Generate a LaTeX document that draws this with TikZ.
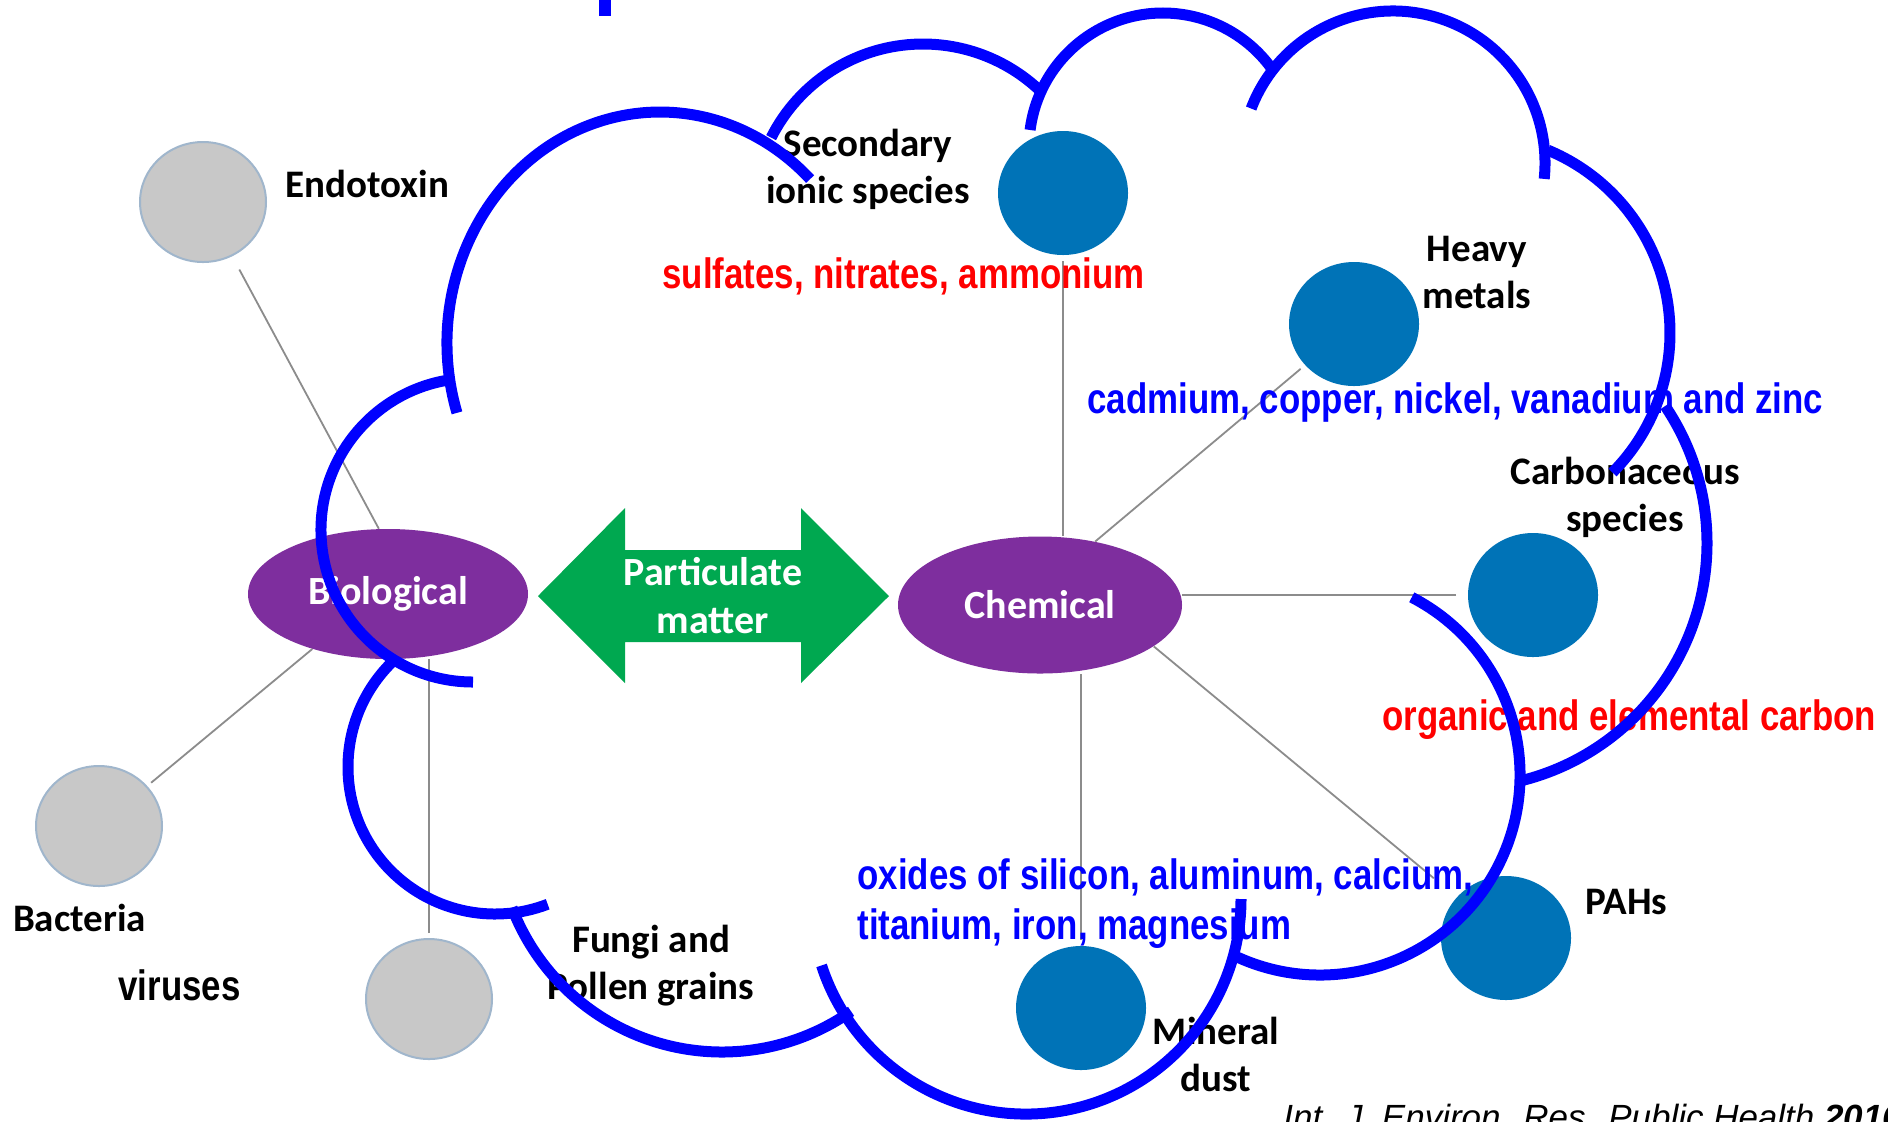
\documentclass[tikz,border=0pt]{standalone}
\usepackage{fontspec}
\usepackage{tikz}
\usetikzlibrary{shapes,arrows,positioning}
\newfontfamily\labelfont{Carlito}
\newfontfamily\notefont{Liberation Sans}[FakeStretch=0.82]
\newfontfamily\citefont{Liberation Sans}
\definecolor{pmgreen}{RGB}{0,168,80}
\definecolor{groupviolet}{RGB}{126,46,158}
\definecolor{chemblue}{RGB}{0,115,183}
\definecolor{biogray}{RGB}{200,200,200}
\definecolor{biorim}{RGB}{160,182,204}
\tikzset{link/.style={color=black!45, line width=0.9pt}}
\tikzset{cloud/.style={draw=blue, line width=5.5pt}}
\tikzset{biopart/.style={ellipse, fill=biogray, draw=biorim, line width=1pt, minimum width=63pt, minimum height=60pt, inner sep=0pt, outer sep=3pt}}
\tikzset{chempart/.style={ellipse, fill=chemblue, minimum width=65pt, minimum height=62pt, inner sep=0pt, outer sep=3pt}}
\tikzset{group/.style={ellipse, fill=groupviolet, text=white, font=\labelfont\bfseries\fontsize{20}{24}\selectfont, inner sep=0pt}}
\tikzset{lab/.style={font=\labelfont\bfseries\fontsize{19.5}{23.5}\selectfont, align=center, inner sep=0pt}}
\tikzset{note/.style={font=\notefont\bfseries\fontsize{21.25}{25}\selectfont, inner sep=0pt}}

\begin{document}
\begin{tikzpicture}[x=0.5pt, y=-0.5pt]
    \path[fill=white, use as bounding box] (0,0) rectangle (1888,1121);

    % the two groups and the arrow between them
    \node[group, minimum width=140pt, minimum height=65pt] (bio) at (388,594) {Biological};
    \node[group, minimum width=142pt, minimum height=68.5pt] (chem) at (1040,605) {Chemical};
    \fill[pmgreen] (538,596) -- (625,508) -- (625,550) -- (801,550) -- (801,508) -- (889,596)
        -- (801,683) -- (801,642) -- (625,642) -- (625,683) -- cycle;
    \node[lab, text=white, font=\labelfont\bfseries\fontsize{20}{24}\selectfont] (pm) at (713,596) {Particulate\\matter};

    % biological parts
    \node[biopart] (endo) at (203,202) {};
    \node[biopart] (bact) at (99,826) {};
    \node[biopart] (fungi) at (429,999) {};

    % chemical parts
    \node[chempart] (sec) at (1063,193) {};
    \node[chempart] (heavy) at (1354,324) {};
    \node[chempart] (carb) at (1533,595) {};
    \node[chempart] (pahs) at (1506,938) {};
    \node[chempart] (mindust) at (1081,1008) {};

    \node[lab, right of = endo, node distance=41pt, anchor=base west, yshift=2.5pt] (endolab) {Endotoxin};
    \node[lab, below of = bact, node distance=52.5pt, anchor=base, xshift=-9.75pt] (bactlab) {Bacteria};
    \node[lab, right of = fungi, node distance=111pt, anchor=base] (fungilab) {Fungi and\\Pollen grains};
    \node[lab, left of = sec, node distance=97.5pt, anchor=base, yshift=-5pt] (seclab) {Secondary\\ionic species};
    \node[lab, right of = heavy, node distance=61.5pt, anchor=base, yshift=8pt] (heavylab) {Heavy\\metals};
    \node[lab, right of = carb, node distance=46pt, anchor=base, yshift=32pt] (carblab) {Carbonaceous\\species};
    \node[lab, right of = pahs, node distance=39.5pt, anchor=base west, yshift=12pt] (pahslab) {PAHs};
    \node[lab, right of = mindust, node distance=67.5pt, anchor=base, yshift=-41.5pt] (minlab) {Mineral\\dust};

    \path[link] (bio.98) edge[shorten >=5pt] (endo)
        (bio.216) edge (bact)
        (fungi.north) edge (fungi.north |- bio.south)
        (sec.south) edge (sec.south |- chem.north)
        (chem.49) edge (heavy)
        (carb.west) edge[shorten <=3pt] (carb.west -| chem.east)
        (chem.340) edge[shorten >=12pt] (pahs)
        (mindust.north) edge (mindust.north |- chem.south);

    % added notes
    \node[note, red, anchor=base west] (sulfnote) at (662,288) {sulfates, nitrates, ammonium};
    \node[note, blue, anchor=base west] (metalnote) at (1087,413) {cadmium, copper, nickel, vanadium and zinc};
    \node[note, red, anchor=base west] (carbnote) at (1382,730) {organic and elemental carbon};
    \node[note, blue, anchor=base west, align=left] (dustnote) at (857,939) {oxides of silicon, aluminum, calcium,\\titanium, iron, magnesium};
    \node[note, anchor=base west] (virusnote) at (118,1000) {viruses};
    \node[font=\citefont\itshape\fontsize{17.5}{20}\selectfont, inner sep=0pt, anchor=base west] (source) at (1283,1129) {Int. J. Environ. Res. Public Health \textbf{2016}};

    % the cloud
    \draw[cloud] ([shift={(-197.6:213 and 231)}]660,343) arc[start angle=-197.6, end angle=-45.2, x radius=213, y radius=231];
    \draw[cloud] ([shift={(-153.3:170)}]923,214) arc[start angle=-153.3, end angle=-46.5, radius=170];
    \draw[cloud] ([shift={(-172.7:134)}]1163,147) arc[start angle=-172.7, end angle=-33.5, radius=134];
    \draw[cloud] ([shift={(-159:152)}]1393,163) arc[start angle=-159, end angle=6, radius=152];
    \draw[cloud] ([shift={(-67.4:198)}]1472,333) arc[start angle=-67.4, end angle=44.8, radius=198];
    \draw[cloud] ([shift={(-34:245)}]1462,543) arc[start angle=-34, end angle=76.4, radius=245];
    \draw[cloud] ([shift={(-62.7:200)}]1320,775) arc[start angle=-62.7, end angle=115.5, radius=200];
    \draw[cloud] ([shift={(-198:215)}]1026,899) arc[start angle=-198, end angle=-360, radius=215];
    \draw[cloud] ([shift={(-201:225)}]722,827) arc[start angle=-201, end angle=-305, radius=225];
    \draw[cloud] ([shift={(-133:147)}]495,767) arc[start angle=-133, end angle=-291, radius=147];
    \draw[cloud] ([shift={(-100:152)}]473,530) arc[start angle=-100, end angle=-270, radius=152];
    \fill[blue] (599,0) rectangle (611,16);
\end{tikzpicture}
\end{document}
